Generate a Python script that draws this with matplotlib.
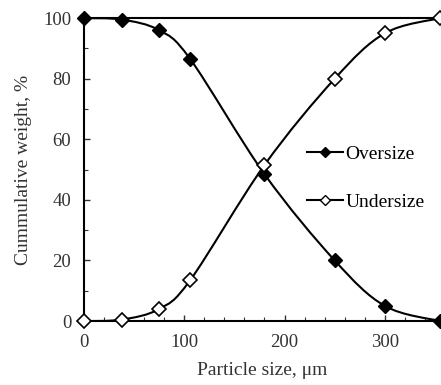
import numpy as np
import matplotlib
matplotlib.use('Agg')
import matplotlib.pyplot as plt
from matplotlib.path import Path
from matplotlib.patches import PathPatch
from matplotlib.ticker import MultipleLocator

plt.rcParams['font.family'] = ['Liberation Serif', 'DejaVu Serif']

sizes = [0, 38, 75, 106, 180, 250, 300, 355]
oversize = [100, 99.5, 96, 86.5, 48.5, 20, 5, 0]
undersize = [0, 0.5, 4, 13.5, 51.5, 80, 95, 100]


def smooth_path(x, y):
    # catmull-rom style bezier like excel smoothed lines
    pts = np.column_stack([x, y]).astype(float)
    verts = [pts[0]]
    codes = [Path.MOVETO]
    n = len(pts)
    for i in range(n - 1):
        p0 = pts[max(i - 1, 0)]
        p1 = pts[i]
        p2 = pts[i + 1]
        p3 = pts[min(i + 2, n - 1)]
        c1 = p1 + (p2 - p0) / 6.0
        c2 = p2 - (p3 - p1) / 6.0
        verts += [c1, c2, p2]
        codes += [Path.CURVE4] * 3
    return Path(verts, codes)


fig = plt.figure(figsize=(4.41, 3.85), dpi=100)
ax = fig.add_axes([0.19, 0.166, 0.808, 0.787])

for ys in (oversize, undersize):
    ax.add_patch(PathPatch(smooth_path(sizes, ys), facecolor='none',
                           edgecolor='black', lw=1.5, zorder=2))

ax.plot(sizes, oversize, ls='none', marker='D', ms=7, color='black',
        clip_on=False, zorder=3)
ax.plot(sizes, undersize, ls='none', marker='D', ms=7, color='black',
        mfc='white', mew=1.2, clip_on=False, zorder=3)

# legend handles
ax.plot([], [], '-', color='black', lw=1.5, marker='D', ms=5, label='Oversize')
ax.plot([], [], '-', color='black', lw=1.5, marker='D', ms=5, mfc='white',
        mew=1.0, label='Undersize')
handles, labels = ax.get_legend_handles_labels()
ax.legend(handles, labels, loc='center left', bbox_to_anchor=(0.60, 0.472),
          frameon=False, fontsize=14, handlelength=1.85, handletextpad=0.1,
          labelspacing=1.55, borderpad=0)

ax.set_xlim(0, 355)
ax.set_ylim(0, 100)
ax.xaxis.set_major_locator(MultipleLocator(100))
ax.xaxis.set_minor_locator(MultipleLocator(20))
ax.yaxis.set_major_locator(MultipleLocator(20))
ax.yaxis.set_minor_locator(MultipleLocator(10))
ax.tick_params(which='both', direction='in', labelsize=13.5, colors='#333333')
ax.tick_params(which='major', length=4, width=1)
ax.tick_params(which='minor', length=3, width=0.8)
ax.tick_params(axis='x', pad=9)
ax.tick_params(axis='y', pad=9)

for s in ('left', 'bottom', 'top'):
    ax.spines[s].set_linewidth(1.5)
ax.spines['right'].set_visible(False)

ax.set_xlabel('Particle size, μm', fontsize=14, color='#333333', labelpad=8)
ax.set_ylabel('Cummulative weight, %', fontsize=14, color='#333333', labelpad=8)

fig.savefig('out.png', dpi=100)
